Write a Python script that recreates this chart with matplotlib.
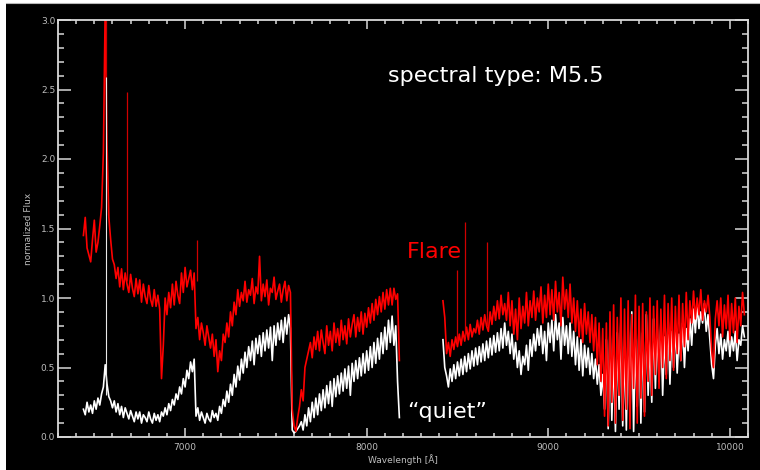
import numpy as np
import matplotlib
matplotlib.use("Agg")
import matplotlib.pyplot as plt
from matplotlib.patches import Rectangle
from matplotlib.lines import Line2D
from matplotlib.ticker import MultipleLocator, FormatStrFormatter

# wavelength grids of the two spectral pieces (gap between them)
wl_blue = np.arange(6440, 8181, 10)
wl_red = np.arange(8420, 10081, 10)

# flare spectrum, normalized flux
flare_blue = [
    1.45, 1.58, 1.36, 1.31, 1.26, 1.42, 1.56, 1.33, 1.40, 1.52,
    1.65, 2.05, 3.10, 2.10, 1.58, 1.42, 1.28, 1.24, 1.14, 1.22,
    1.08, 1.21, 1.06, 1.18, 1.10, 1.04, 1.17, 1.07, 1.01, 1.14,
    1.03, 1.13, 0.97, 1.10, 1.01, 0.96, 1.09, 0.99, 0.94, 1.06,
    0.94, 1.02, 0.92, 0.42, 0.66, 1.00, 0.88, 1.04, 0.93, 1.10,
    0.95, 1.12, 1.02, 0.96, 1.18, 1.04, 1.22, 1.08, 1.14, 1.20,
    1.06, 1.18, 0.78, 0.86, 0.70, 0.82, 0.75, 0.66, 0.80, 0.72,
    0.64, 0.74, 0.58, 0.70, 0.47, 0.62, 0.55, 0.74, 0.68, 0.82,
    0.72, 0.90, 0.80, 0.97, 0.88, 1.06, 0.94, 1.04, 0.98, 1.12,
    0.97, 1.06, 1.02, 1.14, 0.96, 1.08, 1.03, 1.30, 0.98, 1.10,
    1.01, 1.13, 0.95, 1.07, 1.04, 1.15, 0.99, 1.05, 1.10, 0.97,
    1.06, 1.12, 0.98, 1.09, 1.04, 0.20, 0.08, 0.04, 0.14, 0.22,
    0.34, 0.26, 0.50, 0.56, 0.62, 0.68, 0.57, 0.72, 0.63, 0.76,
    0.62, 0.77, 0.68, 0.60, 0.80, 0.66, 0.76, 0.62, 0.82, 0.68,
    0.78, 0.66, 0.84, 0.70, 0.80, 0.67, 0.85, 0.72, 0.81, 0.88,
    0.72, 0.86, 0.76, 0.90, 0.74, 0.89, 0.79, 0.93, 0.82, 0.96,
    0.84, 0.99, 0.88, 1.01, 0.90, 1.04, 0.92, 1.06, 0.95, 1.07,
    0.95, 1.07, 0.99, 1.03, 0.55,
]
flare_red = [
    0.98, 0.86, 0.60, 0.68, 0.58, 0.70, 0.63, 0.72, 0.65, 0.74,
    0.66, 0.76, 0.69, 0.79, 0.70, 0.81, 0.72, 0.78, 0.75, 0.84,
    0.74, 0.86, 0.77, 0.88, 0.80, 0.76, 0.90, 0.81, 0.94, 0.84,
    0.98, 0.85, 1.02, 0.88, 0.96, 0.84, 1.04, 0.80, 0.98, 0.74,
    0.92, 0.70, 1.00, 0.78, 0.94, 0.82, 1.04, 0.80, 0.98, 0.86,
    1.05, 0.84, 1.00, 0.90, 1.08, 0.82, 1.02, 0.86, 1.10, 0.88,
    1.06, 0.84, 1.12, 0.90, 1.04, 0.80, 1.15, 0.92, 1.06, 0.86,
    1.10, 0.82, 1.00, 0.76, 0.98, 0.72, 0.92, 0.68, 0.96, 0.74,
    0.90, 0.68, 0.88, 0.62, 0.86, 0.52, 0.82, 0.40, 0.78, 0.15,
    0.82, 0.08, 0.90, 0.25, 0.95, 0.10, 0.86, 0.30, 1.00, 0.12,
    0.92, 0.20, 0.98, 0.06, 0.88, 0.35, 1.02, 0.10, 0.94, 0.28,
    0.96, 0.15, 0.90, 0.40, 1.00, 0.30, 0.94, 0.45, 0.98, 0.35,
    0.92, 0.50, 1.02, 0.42, 0.96, 0.55, 1.00, 0.48, 0.94, 0.60,
    1.02, 0.55, 0.96, 0.65, 1.04, 0.70, 0.98, 0.82, 1.05, 0.85,
    1.00, 0.88, 1.06, 0.84, 0.98, 0.90, 1.02, 0.86, 0.62, 0.50,
    0.85, 0.98, 0.80, 1.00, 0.72, 0.95, 0.78, 1.02, 0.70, 0.96,
    0.75, 1.00, 0.68, 0.94, 0.80, 1.04, 0.88,
]

# quiet spectrum, normalized flux
quiet_blue = [
    0.20, 0.16, 0.25, 0.18, 0.23, 0.17, 0.26, 0.20, 0.28, 0.23,
    0.31, 0.36, 0.52, 0.38, 0.29, 0.26, 0.21, 0.26, 0.18, 0.24,
    0.16, 0.22, 0.14, 0.21, 0.17, 0.13, 0.19, 0.15, 0.11, 0.18,
    0.13, 0.18, 0.10, 0.16, 0.14, 0.11, 0.18, 0.13, 0.10, 0.17,
    0.12, 0.16, 0.11, 0.18, 0.15, 0.21, 0.16, 0.24, 0.19, 0.27,
    0.23, 0.31, 0.27, 0.36, 0.31, 0.42, 0.36, 0.48, 0.42, 0.54,
    0.47, 0.56, 0.15, 0.21, 0.12, 0.18, 0.14, 0.10, 0.17, 0.13,
    0.11, 0.19, 0.14, 0.17, 0.12, 0.22, 0.17, 0.27, 0.22, 0.33,
    0.25, 0.38, 0.30, 0.45, 0.36, 0.51, 0.41, 0.56, 0.46, 0.61,
    0.50, 0.65, 0.55, 0.69, 0.52, 0.71, 0.60, 0.73, 0.58, 0.75,
    0.62, 0.77, 0.64, 0.79, 0.55, 0.80, 0.66, 0.82, 0.70, 0.84,
    0.68, 0.86, 0.74, 0.88, 0.78, 0.05, 0.03, 0.04, 0.06, 0.08,
    0.11, 0.05, 0.16, 0.08, 0.21, 0.11, 0.25, 0.14, 0.28, 0.16,
    0.31, 0.19, 0.34, 0.21, 0.37, 0.24, 0.40, 0.22, 0.42, 0.29,
    0.44, 0.31, 0.46, 0.33, 0.49, 0.35, 0.51, 0.30, 0.53, 0.40,
    0.55, 0.42, 0.57, 0.44, 0.60, 0.46, 0.62, 0.48, 0.65, 0.50,
    0.68, 0.53, 0.71, 0.56, 0.75, 0.60, 0.79, 0.63, 0.84, 0.68,
    0.87, 0.66, 0.80, 0.40, 0.14,
]
quiet_red = [
    0.70, 0.50, 0.44, 0.36, 0.49, 0.40, 0.52, 0.42, 0.54, 0.44,
    0.56, 0.45, 0.58, 0.47, 0.60, 0.49, 0.62, 0.51, 0.64, 0.52,
    0.65, 0.54, 0.67, 0.55, 0.69, 0.57, 0.71, 0.59, 0.73, 0.61,
    0.75, 0.62, 0.78, 0.64, 0.82, 0.66, 0.76, 0.60, 0.74, 0.56,
    0.68, 0.50, 0.62, 0.45, 0.58, 0.52, 0.66, 0.48, 0.70, 0.58,
    0.74, 0.62, 0.78, 0.66, 0.80, 0.60, 0.76, 0.55, 0.82, 0.68,
    0.84, 0.62, 0.88, 0.70, 0.82, 0.56, 0.86, 0.66, 0.80, 0.60,
    0.82, 0.58, 0.76, 0.52, 0.72, 0.48, 0.70, 0.44, 0.66, 0.50,
    0.64, 0.45, 0.60, 0.42, 0.56, 0.38, 0.52, 0.30, 0.45, 0.20,
    0.70, 0.06, 0.80, 0.12, 0.60, 0.04, 0.75, 0.20, 0.85, 0.08,
    0.65, 0.05, 0.78, 0.15, 0.90, 0.04, 0.70, 0.22, 0.82, 0.10,
    0.75, 0.18, 0.88, 0.30, 0.70, 0.25, 0.85, 0.35, 0.78, 0.40,
    0.82, 0.30, 0.72, 0.45, 0.85, 0.38, 0.76, 0.50, 0.80, 0.46,
    0.74, 0.55, 0.82, 0.50, 0.78, 0.62, 0.85, 0.66, 0.92, 0.75,
    0.95, 0.78, 0.90, 0.82, 0.96, 0.76, 0.88, 0.70, 0.52, 0.42,
    0.66, 0.78, 0.60, 0.74, 0.56, 0.70, 0.62, 0.76, 0.58, 0.72,
    0.62, 0.76, 0.55, 0.70, 0.66, 0.80, 0.72,
]

# narrow emission lines: wavelength, continuum under the line, peak
flare_line_wl = [6563, 6678, 7065, 8498, 8542, 8662]
flare_line_base = [1.60, 1.12, 1.12, 0.68, 0.72, 0.80]
flare_line_peak = [3.20, 2.48, 1.42, 1.20, 1.55, 1.40]
quiet_line_wl = [6563]
quiet_line_base = [0.30]
quiet_line_peak = [2.59]

fg = "#d8d8d8"

fig = plt.figure(figsize=(7.6, 4.7), dpi=100, facecolor="white")
# black panel behind the plot, leaving a thin white rim top/left
fig.patches.append(Rectangle((6 / 760, 0), 1, 1 - 3 / 470, transform=fig.transFigure,
                             facecolor="black", edgecolor="none", zorder=-10))
fig.lines.append(Line2D([6 / 760, 1], [1 - 3 / 470] * 2, transform=fig.transFigure,
                        color="#b8b8b8", lw=0.8))
ax = fig.add_axes([58 / 760, 33 / 470, 690 / 760, 417 / 470])
ax.set_facecolor("black")

lw = 1.2
ax.plot(wl_blue, quiet_blue, color="white", lw=lw)
ax.plot(wl_red, quiet_red, color="white", lw=lw)
ax.plot(wl_blue, flare_blue, color="red", lw=lw)
ax.plot(wl_red, flare_red, color="red", lw=lw)
ax.vlines(flare_line_wl, flare_line_base, flare_line_peak, color="#d00000", lw=0.9)
ax.vlines(quiet_line_wl, quiet_line_base, quiet_line_peak, color="#e8e8e8", lw=0.8)

ax.set_xlim(6300, 10100)
ax.set_ylim(0, 3.0)
ax.xaxis.set_major_locator(MultipleLocator(1000))
ax.xaxis.set_minor_locator(MultipleLocator(100))
ax.yaxis.set_major_locator(MultipleLocator(0.5))
ax.yaxis.set_minor_locator(MultipleLocator(0.1))
ax.yaxis.set_major_formatter(FormatStrFormatter("%.1f"))

for s in ax.spines.values():
    s.set_color(fg)
    s.set_linewidth(1.3)
ax.tick_params(which="both", direction="in", top=True, right=True,
               color=fg, width=1.1, labelcolor="#bdbdbd", labelsize=6.5)
ax.tick_params(axis="y", which="major", length=9.5, pad=2)
ax.tick_params(axis="y", which="minor", length=4.5)
ax.tick_params(axis="x", which="major", length=6.5, pad=4)
ax.tick_params(axis="x", which="minor", length=3)

ax.set_xlabel("Wavelength [Å]", color="#bdbdbd", fontsize=6.5, labelpad=2)
ax.set_ylabel("normalized Flux", color="#bdbdbd", fontsize=6.5, labelpad=6)

ax.text(8709, 2.60, "spectral type: M5.5", color="white", fontsize=16,
        ha="center", va="center")
ax.text(8373, 1.33, "Flare", color="red", fontsize=16, ha="center", va="center")
ax.text(8445, 0.18, "\u201cquiet\u201d", color="white", fontsize=16,
        ha="center", va="center")

fig.savefig("out.png", dpi=100, facecolor=fig.get_facecolor())
